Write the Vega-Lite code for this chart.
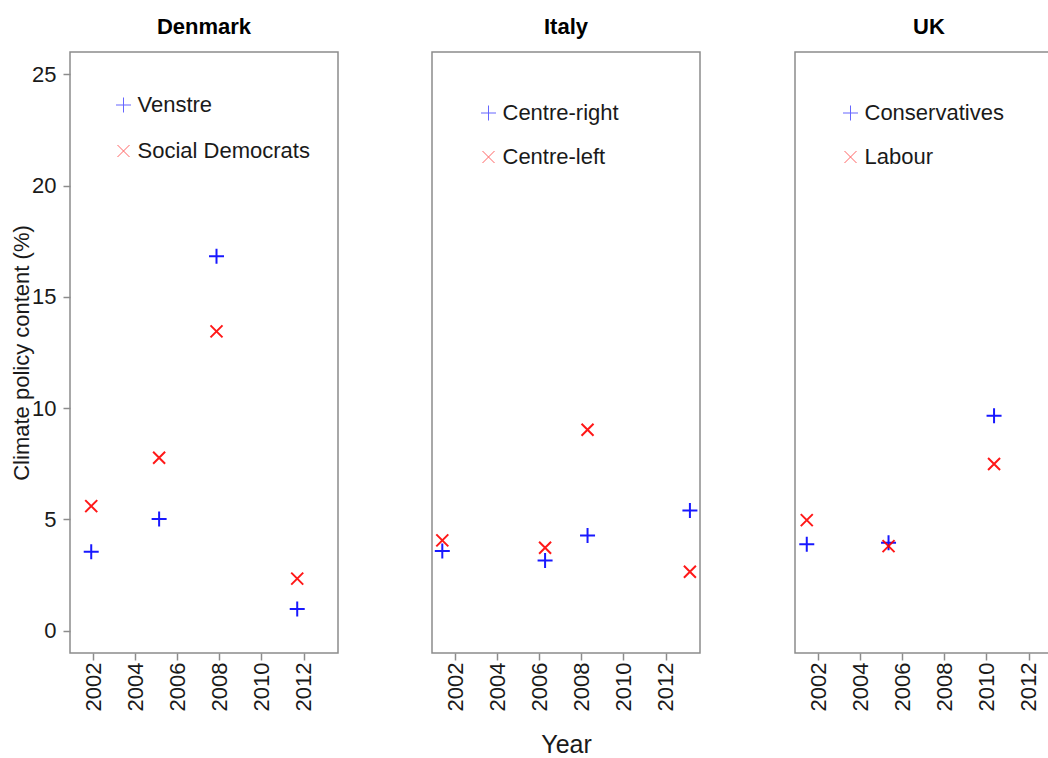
{
  "$schema": "https://vega.github.io/schema/vega-lite/v6.json",
  "padding": {"left": 9, "top": 15, "right": 0, "bottom": 0},
  "background": "white",
  "data": {"values": [
    {"country": "Denmark", "party": "Venstre", "year": 2001.9, "value": 3.55},
    {"country": "Denmark", "party": "Venstre", "year": 2005.13, "value": 5.02},
    {"country": "Denmark", "party": "Venstre", "year": 2007.86, "value": 16.82},
    {"country": "Denmark", "party": "Venstre", "year": 2011.7, "value": 0.98},
    {"country": "Denmark", "party": "Social Democrats", "year": 2001.9, "value": 5.6},
    {"country": "Denmark", "party": "Social Democrats", "year": 2005.13, "value": 7.77},
    {"country": "Denmark", "party": "Social Democrats", "year": 2007.86, "value": 13.45},
    {"country": "Denmark", "party": "Social Democrats", "year": 2011.7, "value": 2.34},
    {"country": "Italy", "party": "Centre-right", "year": 2001.38, "value": 3.58},
    {"country": "Italy", "party": "Centre-right", "year": 2006.27, "value": 3.15},
    {"country": "Italy", "party": "Centre-right", "year": 2008.29, "value": 4.28},
    {"country": "Italy", "party": "Centre-right", "year": 2013.16, "value": 5.4},
    {"country": "Italy", "party": "Centre-left", "year": 2001.38, "value": 4.06},
    {"country": "Italy", "party": "Centre-left", "year": 2006.27, "value": 3.73},
    {"country": "Italy", "party": "Centre-left", "year": 2008.29, "value": 9.03},
    {"country": "Italy", "party": "Centre-left", "year": 2013.16, "value": 2.65},
    {"country": "UK", "party": "Conservatives", "year": 2001.45, "value": 3.88},
    {"country": "UK", "party": "Conservatives", "year": 2005.34, "value": 3.95},
    {"country": "UK", "party": "Conservatives", "year": 2010.36, "value": 9.66},
    {"country": "UK", "party": "Labour", "year": 2001.45, "value": 4.97},
    {"country": "UK", "party": "Labour", "year": 2005.34, "value": 3.8},
    {"country": "UK", "party": "Labour", "year": 2010.36, "value": 7.49}
  ]},
  "spacing": 91,
  "resolve": {"scale": {"color": "independent", "shape": "independent", "x": "independent", "y": "independent"}, "legend": {"color": "independent", "shape": "independent"}},
  "hconcat": [
    {
      "title": {"text": "Denmark"},
      "width": 268, "height": 601,
      "transform": [{"filter": "datum.country === 'Denmark'"}],
      "mark": {"type": "point", "filled": false, "strokeWidth": 2, "size": 225, "opacity": 0.9},
      "encoding": {
        "x": {"field": "year", "type": "quantitative", "scale": {"domain": [2000.89, 2013.64], "nice": false, "zero": false},
              "axis": {"values": [2002, 2004, 2006, 2008, 2010, 2012], "format": "d", "labelAngle": -90, "title": null}},
        "y": {"field": "value", "type": "quantitative", "scale": {"domain": [-1, 26], "nice": false, "zero": false},
              "axis": {"values": [0, 5, 10, 15, 20, 25], "title": "Climate policy content (%)", "labelPadding": 7, "titlePadding": -2}},
        "color": {"field": "party", "type": "nominal", "scale": {"domain": ["Venstre", "Social Democrats"], "range": ["#0000ff", "#ff0000"]},
                  "legend": {"title": null, "orient": "none", "legendX": 42.5, "legendY": 42, "rowPadding": 24}},
        "shape": {"field": "party", "type": "nominal", "scale": {"domain": ["Venstre", "Social Democrats"], "range": ["M-1,0H1M0,-1V1", "M-0.8,-0.8L0.8,0.8M-0.8,0.8L0.8,-0.8"]},
                  "legend": {"title": null, "orient": "none", "legendX": 42.5, "legendY": 42, "rowPadding": 24}}
      }
    },
    {
      "title": {"text": "Italy"},
      "width": 268, "height": 601,
      "transform": [{"filter": "datum.country === 'Italy'"}],
      "mark": {"type": "point", "filled": false, "strokeWidth": 2, "size": 225, "opacity": 0.9},
      "encoding": {
        "x": {"field": "year", "type": "quantitative", "scale": {"domain": [2000.89, 2013.64], "nice": false, "zero": false},
              "axis": {"values": [2002, 2004, 2006, 2008, 2010, 2012], "format": "d", "labelAngle": -90, "title": "Year", "titleFontSize": 25, "titlePadding": 22}},
        "y": {"field": "value", "type": "quantitative", "scale": {"domain": [-1, 26], "nice": false, "zero": false}, "axis": null},
        "color": {"field": "party", "type": "nominal", "scale": {"domain": ["Centre-right", "Centre-left"], "range": ["#0000ff", "#ff0000"]},
                  "legend": {"title": null, "orient": "none", "legendX": 45.5, "legendY": 50, "rowPadding": 22}},
        "shape": {"field": "party", "type": "nominal", "scale": {"domain": ["Centre-right", "Centre-left"], "range": ["M-1,0H1M0,-1V1", "M-0.8,-0.8L0.8,0.8M-0.8,0.8L0.8,-0.8"]},
                  "legend": {"title": null, "orient": "none", "legendX": 45.5, "legendY": 50, "rowPadding": 22}}
      }
    },
    {
      "title": {"text": "UK"},
      "width": 268, "height": 601,
      "transform": [{"filter": "datum.country === 'UK'"}],
      "mark": {"type": "point", "filled": false, "strokeWidth": 2, "size": 225, "opacity": 0.9},
      "encoding": {
        "x": {"field": "year", "type": "quantitative", "scale": {"domain": [2000.89, 2013.64], "nice": false, "zero": false},
              "axis": {"values": [2002, 2004, 2006, 2008, 2010, 2012], "format": "d", "labelAngle": -90, "title": null}},
        "y": {"field": "value", "type": "quantitative", "scale": {"domain": [-1, 26], "nice": false, "zero": false}, "axis": null},
        "color": {"field": "party", "type": "nominal", "scale": {"domain": ["Conservatives", "Labour"], "range": ["#0000ff", "#ff0000"]},
                  "legend": {"title": null, "orient": "none", "legendX": 44.5, "legendY": 50, "rowPadding": 22}},
        "shape": {"field": "party", "type": "nominal", "scale": {"domain": ["Conservatives", "Labour"], "range": ["M-1,0H1M0,-1V1", "M-0.8,-0.8L0.8,0.8M-0.8,0.8L0.8,-0.8"]},
                  "legend": {"title": null, "orient": "none", "legendX": 44.5, "legendY": 50, "rowPadding": 22}}
      }
    }
  ],
  "config": {
    "font": "Liberation Sans",
    "view": {"stroke": "#8c8c8c", "strokeWidth": 1.5},
    "title": {"font": "Liberation Sans", "fontSize": 22, "fontWeight": "bold", "color": "#000000", "anchor": "middle", "frame": "group", "offset": 13},
    "axis": {"domain": false, "grid": false, "tickColor": "#8c8c8c", "tickWidth": 1.5, "tickSize": 7, "labelFont": "Liberation Sans", "labelFontSize": 22, "labelColor": "#1a1a1a", "labelPadding": 2,
             "titleFont": "Liberation Sans", "titleFontSize": 22, "titleFontWeight": "normal", "titleColor": "#1a1a1a"},
    "legend": {"labelFont": "Liberation Sans", "labelFontSize": 22, "labelColor": "#1a1a1a", "labelLimit": 0, "symbolSize": 225, "symbolStrokeWidth": 1, "symbolOpacity": 0.6, "labelOffset": 3, "padding": 0}
  }
}
